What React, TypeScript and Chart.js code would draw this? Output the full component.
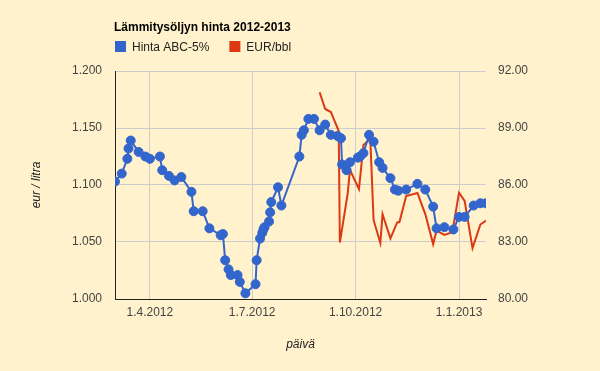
import React, { useEffect, useRef } from "react";
import { Chart, registerables } from "chart.js";

Chart.register(...registerables);

const TITLE = "Lämmitysöljyn hinta 2012-2013";
const SERIES_NAMES = ["Hinta ABC-5%", "EUR/bbl"];
const SERIES_COLORS = ["#3366cc", "#dc3912"];
const Y_LEFT_TITLE = "eur / litra";
const X_TITLE = "päivä";
const BG = "#fff2cc";

const priceDates = [
  "2012-03-01", "2012-03-07", "2012-03-12", "2012-03-13", "2012-03-15", "2012-03-22",
  "2012-03-28", "2012-04-01", "2012-04-10", "2012-04-12", "2012-04-18", "2012-04-23",
  "2012-04-29", "2012-05-08", "2012-05-10", "2012-05-18", "2012-05-24", "2012-06-03",
  "2012-06-05", "2012-06-07", "2012-06-10", "2012-06-12", "2012-06-18", "2012-06-20",
  "2012-06-25", "2012-07-04", "2012-07-05", "2012-07-08", "2012-07-10", "2012-07-11",
  "2012-07-12", "2012-07-16", "2012-07-17", "2012-07-18", "2012-07-24", "2012-07-27",
  "2012-08-12", "2012-08-14", "2012-08-16", "2012-08-20", "2012-08-25", "2012-08-30",
  "2012-09-04", "2012-09-09", "2012-09-15", "2012-09-18", "2012-09-19", "2012-09-23",
  "2012-09-26", "2012-10-03", "2012-10-05", "2012-10-08", "2012-10-13", "2012-10-17",
  "2012-10-22", "2012-10-25", "2012-11-01", "2012-11-05", "2012-11-08", "2012-11-15",
  "2012-11-25", "2012-12-02", "2012-12-09", "2012-12-12", "2012-12-19", "2012-12-27",
  "2013-01-01", "2013-01-06", "2013-01-14", "2013-01-20", "2013-01-25",
];
const priceValues = [
  1.103, 1.110, 1.123, 1.132, 1.139, 1.129,
  1.125, 1.123, 1.125, 1.113, 1.108, 1.104,
  1.107, 1.094, 1.077, 1.077, 1.062, 1.056,
  1.057, 1.034, 1.026, 1.021, 1.021, 1.015,
  1.005, 1.013, 1.034, 1.053, 1.058, 1.061,
  1.063, 1.068, 1.076, 1.085, 1.098, 1.082,
  1.125, 1.144, 1.148, 1.158, 1.158, 1.148,
  1.153, 1.144, 1.143, 1.141, 1.118, 1.113,
  1.120, 1.124, 1.125, 1.128, 1.144, 1.138,
  1.120, 1.115, 1.106, 1.096, 1.095, 1.096,
  1.101, 1.096, 1.081, 1.062, 1.063, 1.061,
  1.072, 1.072, 1.082, 1.084, 1.084,
];

const bblDates = [
  "2012-08-30", "2012-09-04", "2012-09-09", "2012-09-11", "2012-09-16", "2012-09-17",
  "2012-09-24", "2012-09-26", "2012-10-04", "2012-10-08", "2012-10-13", "2012-10-14",
  "2012-10-17", "2012-10-23", "2012-10-25", "2012-11-01", "2012-11-07", "2012-11-09",
  "2012-11-15", "2012-11-25", "2012-12-02", "2012-12-09", "2012-12-12", "2012-12-19",
  "2012-12-26", "2013-01-01", "2013-01-06", "2013-01-13", "2013-01-20", "2013-01-25",
];
const bblValues = [
  90.88, 90.0, 89.84, 89.56, 88.84, 82.97,
  85.56, 86.79, 85.79, 88.11, 88.37, 88.54,
  84.16, 82.95, 84.46, 83.19, 84.03, 84.05,
  85.42, 85.58, 84.47, 82.89, 83.61, 83.37,
  83.51, 85.59, 85.16, 82.68, 83.92, 84.13,
];

const xTickDates = ["2012-04-01", "2012-07-01", "2012-10-01", "2013-01-01"];
const leftTicks = [1.0, 1.05, 1.1, 1.15, 1.2];
const rightTicks = [80, 83, 86, 89, 92];

const DAY = 86400000;
const toDay = (s: string) => {
  const [y, m, d] = s.split("-").map(Number);
  return Date.UTC(y, m - 1, d) / DAY;
};
const dayLabel = (v: number) => {
  const dt = new Date(Math.round(v) * DAY);
  return `${dt.getUTCDate()}.${dt.getUTCMonth() + 1}.${dt.getUTCFullYear()}`;
};

const FONT = "'Liberation Sans', Arial, sans-serif";

const headerPlugin = {
  id: "header",
  beforeDraw(chart: any) {
    const { ctx, width, height } = chart;
    ctx.save();
    ctx.fillStyle = BG;
    ctx.fillRect(0, 0, width, height);
    ctx.restore();
  },
  afterDraw(chart: any) {
    const { ctx } = chart;
    ctx.save();
    ctx.textAlign = "left";
    ctx.textBaseline = "alphabetic";
    ctx.fillStyle = "#000000";
    ctx.font = `bold 12px ${FONT}`;
    ctx.fillText(TITLE, 114, 31);
    ctx.font = `12px ${FONT}`;
    let x = 115;
    SERIES_NAMES.forEach((name, i) => {
      ctx.fillStyle = SERIES_COLORS[i];
      ctx.fillRect(x, 41, 11, 11);
      ctx.fillStyle = "#222222";
      ctx.fillText(name, x + 17, 51);
      x += 17 + ctx.measureText(name).width + 20;
    });
    ctx.restore();
  },
};

export default function App() {
  const ref = useRef<HTMLCanvasElement | null>(null);

  useEffect(() => {
    document.body.style.margin = "0";
    document.body.style.background = BG;
    if (!ref.current) return;
    const priceData = priceDates.map((d, i) => ({ x: toDay(d), y: priceValues[i] }));
    const bblData = bblDates.map((d, i) => ({ x: toDay(d), y: bblValues[i] }));
    const xMin = toDay(priceDates[0]);
    const xMax = toDay(priceDates[priceDates.length - 1]);
    const xTicks = xTickDates.map(toDay);

    const chart = new Chart(ref.current, {
      type: "line",
      data: {
        datasets: [
          {
            label: SERIES_NAMES[0],
            data: priceData,
            yAxisID: "y",
            borderColor: SERIES_COLORS[0],
            backgroundColor: SERIES_COLORS[0],
            pointBackgroundColor: SERIES_COLORS[0],
            pointBorderColor: SERIES_COLORS[0],
            borderWidth: 2,
            pointRadius: 4.5,
            pointBorderWidth: 1,
            tension: 0,
          },
          {
            label: SERIES_NAMES[1],
            data: bblData,
            yAxisID: "y1",
            borderColor: SERIES_COLORS[1],
            backgroundColor: SERIES_COLORS[1],
            borderWidth: 2,
            pointRadius: 0,
            tension: 0,
          },
        ],
      },
      options: {
        responsive: false,
        animation: false,
        devicePixelRatio: 1,
        layout: { padding: { top: 71, left: 0, right: 0, bottom: 0 } },
        plugins: {
          legend: { display: false },
          title: { display: false },
          tooltip: { enabled: false },
        },
        font: { family: FONT },
        scales: {
          x: {
            type: "linear",
            min: xMin,
            max: xMax,
            afterBuildTicks: (scale: any) => {
              scale.ticks = xTicks.map((v) => ({ value: v }));
            },
            afterFit: (scale: any) => {
              scale.height = 72;
            },
            ticks: {
              callback: (v: any) => dayLabel(Number(v)),
              color: "#444444",
              font: { family: FONT, size: 12 },
              padding: 6,
              maxRotation: 0,
              autoSkip: false,
            },
            grid: { color: "#cccccc", drawTicks: false, lineWidth: 1 },
            border: { color: "#222222", width: 1 },
            title: {
              display: true,
              text: X_TITLE,
              color: "#222222",
              font: { family: FONT, size: 12, style: "italic" },
              padding: { top: 0, bottom: 19 },
            },
          },
          y: {
            position: "left",
            min: 1.0,
            max: 1.2,
            afterBuildTicks: (scale: any) => {
              scale.ticks = leftTicks.map((v) => ({ value: v }));
            },
            afterFit: (scale: any) => {
              scale.width = 115;
            },
            ticks: {
              callback: (v: any) => Number(v).toFixed(3),
              color: "#444444",
              font: { family: FONT, size: 12 },
              padding: 13,
            },
            grid: { color: "#cccccc", drawTicks: false, lineWidth: 1 },
            border: { color: "#222222", width: 1 },
            title: {
              display: true,
              text: Y_LEFT_TITLE,
              color: "#222222",
              font: { family: FONT, size: 12, style: "italic" },
              padding: { top: 29, bottom: 0 },
            },
          },
          y1: {
            position: "right",
            min: 80,
            max: 92,
            afterBuildTicks: (scale: any) => {
              scale.ticks = rightTicks.map((v) => ({ value: v }));
            },
            afterFit: (scale: any) => {
              scale.width = 114;
            },
            ticks: {
              callback: (v: any) => Number(v).toFixed(2),
              color: "#444444",
              font: { family: FONT, size: 12 },
              padding: 12,
            },
            grid: { display: false, drawTicks: false },
            border: { display: false },
          },
        },
      } as any,
      plugins: [headerPlugin],
    });
    return () => chart.destroy();
  }, []);

  return (
    <div style={{ width: 600, height: 371, background: BG }}>
      <canvas ref={ref} width={600} height={371} />
    </div>
  );
}
